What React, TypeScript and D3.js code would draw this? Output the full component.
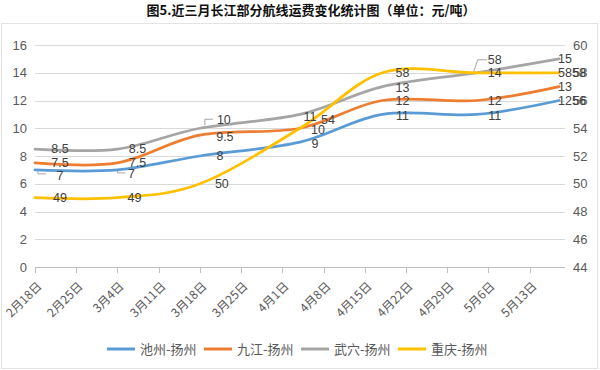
import React, { useEffect, useRef } from "react";
import * as d3 from "d3";

// 数据点日期（近三月，约两周一次）
const pointDates = ["2019-02-18", "2019-03-04", "2019-03-18", "2019-04-04", "2019-04-18", "2019-05-04", "2019-05-18"];
const seriesNames = ["池州-扬州", "九江-扬州", "武穴-扬州", "重庆-扬州"];
const seriesColors = ["#5B9BD5", "#ED7D31", "#A5A5A5", "#FFC000"];
const chizhou = [7, 7, 8, 9, 11, 11, 12];
const jiujiang = [7.5, 7.5, 9.5, 10, 12, 12, 13];
const wuxue = [8.5, 8.5, 10, 11, 13, 14, 15];
const chongqing = [49, 49, 50, 54, 58, 58, 58]; // 次坐标轴
const extraRightLabels = [58, 56]; // 末点处重叠的次轴标签

const leftTicks = [0, 2, 4, 6, 8, 10, 12, 14, 16];
const rightTicks = [44, 46, 48, 50, 52, 54, 56, 58, 60];
const tickDates = ["2019-02-18", "2019-02-25", "2019-03-04", "2019-03-11", "2019-03-18", "2019-03-25", "2019-04-01", "2019-04-08", "2019-04-15", "2019-04-22", "2019-04-29", "2019-05-06", "2019-05-13"];
const tickLabels = ["2月18日", "2月25日", "3月4日", "3月11日", "3月18日", "3月25日", "4月1日", "4月8日", "4月15日", "4月22日", "4月29日", "5月6日", "5月13日"];

// 数据标签偏移（相对数据点，像素）
const labelNudge: [number, number][][] = [
  [[25, 6], [14, 4], [20, 0], [15, 1], [20, 1], [18, 1], [0, 0]],
  [[25, 0], [20, 0], [25, 1], [18, 1], [20, 0], [18, 0], [0, 0]],
  [[25, 0], [20, 0], [24, -9], [10, 2], [20, 1], [18, 0], [0, 0]],
  [[25, 0], [17, 0], [22, 0], [28, -9], [20, 0], [18, -13], [0, 0]],
];
const leaders: { s: number; i: number; pts: [number, number][] }[] = [
  { s: 0, i: 0, pts: [[3, 1], [3, 4], [11, 4]] },
  { s: 0, i: 1, pts: [[0, 1], [0, 3], [8, 3]] },
  { s: 2, i: 2, pts: [[5, -3], [5, -9], [13, -9]] },
  { s: 3, i: 5, pts: [[-3, -1], [1, -13], [10, -13]] },
];

const FONT = "'Liberation Sans', 'Noto Sans CJK SC', sans-serif";
const CJK = "'Noto Sans CJK SC', sans-serif";

export default function App() {
  const ref = useRef<SVGSVGElement | null>(null);

  useEffect(() => {
    const width = 600;
    const height = 370;
    const svg = d3.select(ref.current);
    svg.selectAll("*").remove();
    svg.attr("width", width).attr("height", height);

    const parse = (s: string) => new Date(s + "T00:00:00Z");
    const x = d3
      .scaleUtc()
      .domain([parse("2019-02-18"), parse("2019-05-19")])
      .range([35, 565]);
    const yL = d3.scaleLinear().domain([0, 16]).range([267, 45]);
    const yR = d3.scaleLinear().domain([44, 60]).range([267, 45]);

    svg.append("rect").attr("width", width).attr("height", height).attr("fill", "#fff");
    svg
      .append("rect")
      .attr("x", 1.5)
      .attr("y", 23.5)
      .attr("width", 596)
      .attr("height", 345)
      .attr("fill", "none")
      .attr("stroke", "#e3e3e3");

    // 标题
    svg
      .append("text")
      .attr("x", 311)
      .attr("y", 15)
      .attr("text-anchor", "middle")
      .style("font-family", CJK)
      .style("font-size", "13px")
      .style("font-weight", "bold")
      .attr("fill", "#111")
      .text("图5.近三月长江部分航线运费变化统计图（单位：元/吨）");

    // 网格
    svg
      .append("g")
      .selectAll("line")
      .data(leftTicks.slice(1))
      .enter()
      .append("line")
      .attr("x1", 35)
      .attr("x2", 565)
      .attr("y1", (d) => Math.round(yL(d)) + 0.5)
      .attr("y2", (d) => Math.round(yL(d)) + 0.5)
      .attr("stroke", "#d9d9d9");

    // 左轴
    svg
      .append("g")
      .selectAll("text")
      .data(leftTicks)
      .enter()
      .append("text")
      .attr("x", 27)
      .attr("y", (d) => yL(d))
      .attr("dy", "0.35em")
      .attr("text-anchor", "end")
      .style("font-family", FONT)
      .style("font-size", "13px")
      .attr("fill", "#595959")
      .text((d) => d);

    // 右轴
    svg
      .append("g")
      .selectAll("text")
      .data(rightTicks)
      .enter()
      .append("text")
      .attr("x", 573)
      .attr("y", (d) => yR(d))
      .attr("dy", "0.35em")
      .style("font-family", FONT)
      .style("font-size", "13px")
      .attr("fill", "#595959")
      .text((d) => d);

    // X 轴
    const xAxis = svg.append("g");
    xAxis
      .append("line")
      .attr("x1", 35)
      .attr("x2", 565)
      .attr("y1", 267.5)
      .attr("y2", 267.5)
      .attr("stroke", "#bfbfbf");
    const ticks = xAxis
      .selectAll("g.tick")
      .data(tickDates.map((d, i) => ({ date: parse(d), label: tickLabels[i] })))
      .enter()
      .append("g")
      .attr("class", "tick")
      .attr("transform", (d) => `translate(${Math.round(x(d.date)) + 0.5},0)`);
    ticks
      .append("line")
      .attr("y1", 267)
      .attr("y2", 273)
      .attr("stroke", "#bfbfbf");
    ticks
      .append("text")
      .attr("transform", "translate(4,284) rotate(-45)")
      .attr("text-anchor", "end")
      .attr("dy", "0.35em")
      .style("font-family", CJK)
      .style("font-size", "12px")
      .attr("fill", "#595959")
      .text((d) => d.label);

    // 折线
    const allValues = [chizhou, jiujiang, wuxue, chongqing];
    const series = allValues.map((vals, s) => ({
      name: seriesNames[s],
      color: seriesColors[s],
      y: s === 3 ? yR : yL,
      points: vals.map((v, i) => ({ date: parse(pointDates[i]), value: v })),
    }));

    series.forEach((se) => {
      const line = d3
        .line<{ date: Date; value: number }>()
        .x((d) => x(d.date))
        .y((d) => se.y(d.value))
        .curve(d3.curveCardinal.tension(0));
      svg
        .append("path")
        .datum(se.points)
        .attr("d", line)
        .attr("fill", "none")
        .attr("stroke", se.color)
        .attr("stroke-width", 2.75)
        .attr("stroke-linecap", "round");
    });

    // 引导线
    leaders.forEach((l) => {
      const p = series[l.s].points[l.i];
      const px = x(p.date);
      const py = series[l.s].y(p.value);
      svg
        .append("polyline")
        .attr("points", l.pts.map(([dx, dy]) => `${px + dx},${py + dy}`).join(" "))
        .attr("fill", "none")
        .attr("stroke", "#a6a6a6")
        .attr("stroke-width", 1);
    });

    // 数据标签
    const labels = svg.append("g");
    series.forEach((se, s) => {
      se.points.forEach((p, i) => {
        const last = i === se.points.length - 1;
        const [dx, dy] = labelNudge[s][i];
        labels
          .append("text")
          .attr("x", x(p.date) + (last ? -1 : dx))
          .attr("y", se.y(p.value) + dy)
          .attr("dy", "0.35em")
          .attr("text-anchor", last ? "start" : "middle")
          .style("font-family", FONT)
          .style("font-size", "12.5px")
          .attr("fill", "#404040")
          .text(String(p.value));
      });
    });
    const lastDate = parse(pointDates[pointDates.length - 1]);
    extraRightLabels.forEach((v) => {
      labels
        .append("text")
        .attr("x", x(lastDate) + 13)
        .attr("y", yR(v))
        .attr("dy", "0.35em")
        .style("font-family", FONT)
        .style("font-size", "12.5px")
        .attr("fill", "#404040")
        .text(String(v));
    });

    // 图例
    const legend = svg.append("g").attr("transform", "translate(107,349)");
    const item = legend
      .selectAll("g")
      .data(series)
      .enter()
      .append("g")
      .attr("transform", (_d, i) => `translate(${i * 97},0)`);
    item
      .append("line")
      .attr("x1", 0)
      .attr("x2", 28)
      .attr("stroke", (d) => d.color)
      .attr("stroke-width", 3);
    item
      .append("text")
      .attr("x", 33)
      .attr("dy", "0.35em")
      .style("font-family", CJK)
      .style("font-size", "13px")
      .attr("fill", "#595959")
      .text((d) => d.name);
  }, []);

  return <svg ref={ref} style={{ position: "absolute", left: 0, top: 0 }}></svg>;
}
